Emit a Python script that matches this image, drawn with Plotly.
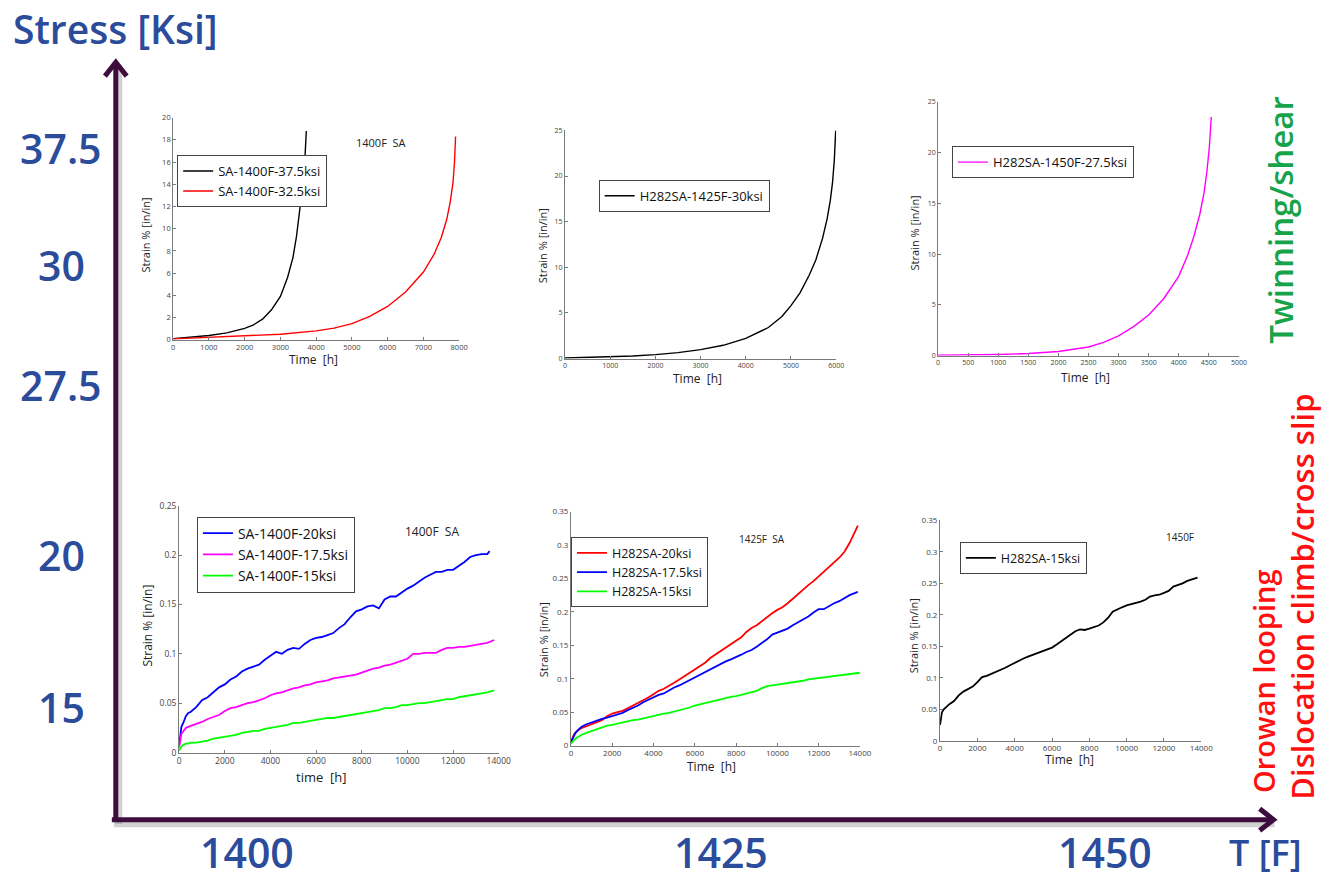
import plotly.graph_objects as go

W, H = 1334, 879

# ---------------- creep data: high-stress tests (strain %, smooth curves) ----------------
sa1400_375_h = [0, 500, 1000, 1500, 2000, 2250, 2500, 2750, 3000, 3200, 3350, 3450, 3550, 3620, 3680, 3725]
sa1400_375 = [0.1, 0.22, 0.38, 0.62, 1.02, 1.35, 1.85, 2.7, 3.9, 5.6, 7.4, 9.3, 11.8, 13.8, 16.0, 18.8]

sa1400_325_h = [0, 1000, 2000, 3000, 4000, 4500, 5000, 5500, 6000, 6500, 7000, 7300, 7500, 7650, 7750, 7830, 7870, 7900]
sa1400_325 = [0.08, 0.2, 0.33, 0.5, 0.8, 1.05, 1.45, 2.1, 3.0, 4.3, 6.1, 7.7, 9.2, 10.8, 12.4, 14.2, 16.0, 18.3]

h282_1425_30_h = [0, 500, 1000, 1500, 2000, 2500, 3000, 3500, 4000, 4500, 4800, 5000, 5200, 5400, 5550,
                  5700, 5800, 5870, 5920, 5960, 5990]
h282_1425_30 = [0.05, 0.1, 0.18, 0.28, 0.43, 0.65, 0.97, 1.45, 2.2, 3.4, 4.6, 5.8, 7.2, 9.1, 10.8,
                13.2, 15.3, 17.3, 19.3, 21.8, 25.0]

h282_1450_275_h = [0, 500, 1000, 1500, 2000, 2500, 2750, 3000, 3250, 3500, 3750, 4000, 4150, 4250, 4350,
                   4420, 4470, 4510, 4540]
h282_1450_275 = [0.03, 0.05, 0.1, 0.2, 0.4, 0.85, 1.3, 1.95, 2.85, 4.0, 5.6, 7.8, 9.9, 11.7, 13.9,
                 16.0, 18.2, 20.6, 23.5]

# ---------------- creep data: low-stress tests (sampled on a common hour grid) ----------------
grid_h = [0, 50, 100, 200, 300, 400, 500,
          750, 1000, 1250, 1500, 1750, 2000, 2250, 2500, 2750, 3000,
          3250, 3500, 3750, 4000, 4250, 4500, 4750, 5000, 5250, 5500,
          5750, 6000, 6250, 6500, 6750, 7000, 7250, 7500, 7750, 8000,
          8250, 8500, 8750, 9000, 9250, 9500, 9750, 10000, 10250, 10500,
          10750, 11000, 11250, 11500, 11750, 12000, 12250, 12500, 12750, 13000,
          13250, 13500]

# 1400F SA
sa1400_20 = [0.008, 0.020, 0.026, 0.031, 0.037, 0.040, 0.041,
             0.046, 0.053, 0.056, 0.061, 0.066, 0.069, 0.074, 0.077, 0.082, 0.085,
             0.087, 0.089, 0.094, 0.098, 0.102, 0.100, 0.104, 0.106, 0.105, 0.110,
             0.114, 0.116, 0.117, 0.119, 0.121, 0.126, 0.130, 0.137, 0.143, 0.145,
             0.148, 0.149, 0.146, 0.155, 0.158, 0.158, 0.162, 0.166, 0.169, 0.173,
             0.177, 0.180, 0.183, 0.183, 0.185, 0.185, 0.189, 0.193, 0.198, 0.200,
             0.201, 0.201]
sa1400_20_end = (13600, 0.204)

sa1400_175 = [0.005, 0.014, 0.019, 0.022, 0.025, 0.026, 0.027,
              0.029, 0.031, 0.034, 0.036, 0.038, 0.042, 0.045, 0.046, 0.048, 0.050,
              0.051, 0.053, 0.055, 0.058, 0.060, 0.061, 0.063, 0.065, 0.066, 0.068,
              0.069, 0.071, 0.072, 0.073, 0.075, 0.076, 0.077, 0.078, 0.079, 0.081,
              0.083, 0.085, 0.086, 0.088, 0.089, 0.091, 0.093, 0.095, 0.100, 0.100,
              0.101, 0.101, 0.101, 0.104, 0.106, 0.106, 0.107, 0.107, 0.108, 0.109,
              0.110, 0.111]
sa1400_175_end = (13800, 0.114)

sa1400_15 = [0.002, 0.004, 0.006, 0.008, 0.009, 0.009, 0.010,
             0.010, 0.011, 0.012, 0.014, 0.015, 0.016, 0.017, 0.018, 0.020, 0.021,
             0.022, 0.022, 0.024, 0.025, 0.026, 0.027, 0.028, 0.030, 0.030, 0.031,
             0.032, 0.033, 0.034, 0.035, 0.035, 0.036, 0.037, 0.038, 0.039, 0.040,
             0.041, 0.042, 0.043, 0.045, 0.045, 0.046, 0.048, 0.048, 0.049, 0.050,
             0.050, 0.051, 0.052, 0.053, 0.054, 0.054, 0.056, 0.057, 0.058, 0.059,
             0.060, 0.061]
sa1400_15_end = (13800, 0.063)

# 1425F SA
h282_20 = [0.005, 0.010, 0.014, 0.019, 0.022, 0.024, 0.026,
           0.029, 0.032, 0.034, 0.038, 0.044, 0.048, 0.050, 0.052, 0.056, 0.060,
           0.063, 0.068, 0.072, 0.077, 0.082, 0.085, 0.089, 0.094, 0.099, 0.104,
           0.109, 0.113, 0.118, 0.124, 0.131, 0.136, 0.141, 0.146, 0.152, 0.156,
           0.162, 0.170, 0.176, 0.180, 0.186, 0.193, 0.198, 0.203, 0.207, 0.213,
           0.220, 0.226, 0.234, 0.240, 0.246, 0.253, 0.260, 0.266, 0.273, 0.281,
           0.290, 0.303]
h282_20_end = (13900, 0.329)

h282_175 = [0.005, 0.009, 0.013, 0.018, 0.022, 0.025, 0.028,
            0.032, 0.035, 0.037, 0.040, 0.042, 0.044, 0.046, 0.049, 0.053, 0.056,
            0.060, 0.065, 0.069, 0.073, 0.076, 0.078, 0.083, 0.087, 0.090, 0.094,
            0.099, 0.103, 0.106, 0.110, 0.114, 0.119, 0.122, 0.126, 0.129, 0.132,
            0.136, 0.140, 0.143, 0.148, 0.153, 0.159, 0.166, 0.169, 0.172, 0.175,
            0.180, 0.184, 0.189, 0.193, 0.199, 0.204, 0.204, 0.209, 0.213, 0.216,
            0.220, 0.225]
h282_175_end = (13900, 0.230)

h282_15 = [0.003, 0.005, 0.007, 0.010, 0.012, 0.014, 0.016,
           0.019, 0.022, 0.025, 0.028, 0.030, 0.031, 0.033, 0.035, 0.036, 0.038,
           0.039, 0.041, 0.043, 0.045, 0.046, 0.048, 0.049, 0.051, 0.052, 0.055,
           0.057, 0.060, 0.062, 0.064, 0.066, 0.068, 0.069, 0.071, 0.073, 0.074,
           0.076, 0.078, 0.079, 0.082, 0.086, 0.089, 0.090, 0.091, 0.093, 0.094,
           0.095, 0.096, 0.097, 0.099, 0.100, 0.101, 0.102, 0.103, 0.104, 0.105,
           0.106, 0.107]
h282_15_end = (14000, 0.109)

# 1450F
h282_1450_15 = [0.025, 0.038, 0.045, 0.050, 0.053, 0.056, 0.058,
                0.063, 0.072, 0.078, 0.082, 0.086, 0.093, 0.101, 0.103, 0.106, 0.110,
                0.112, 0.116, 0.120, 0.124, 0.128, 0.131, 0.134, 0.137, 0.139, 0.142,
                0.145, 0.148, 0.153, 0.158, 0.164, 0.169, 0.174, 0.177, 0.176, 0.178,
                0.180, 0.183, 0.188, 0.195, 0.205, 0.209, 0.212, 0.215, 0.217, 0.218,
                0.221, 0.224, 0.229, 0.231, 0.232, 0.235, 0.238, 0.245, 0.247, 0.250,
                0.254, 0.256]
h282_1450_15_end = (13800, 0.259)

for s in (sa1400_20, sa1400_175, sa1400_15, h282_20, h282_175, h282_15, h282_1450_15):
    assert len(s) == len(grid_h)

# ---------------- stress / temperature map labels ----------------
stress_labels = ["37.5", "30", "27.5", "20", "15"]
stress_label_y = [144, 262, 384, 556, 710]
temp_labels = ["1400", "1425", "1450"]
temp_label_x = [248, 727, 1115]

BLUE_TXT = "#2b4c9b"
ARROW = "#3d0d3d"
FONT = "Open Sans, Lato, sans-serif"
SMALL = "Open Sans, DejaVu Sans, sans-serif"


def px(x):
    return x / W


def py(y):
    return 1 - y / H


fig = go.Figure()

# panel geometry in pixels: (left, right, top, bottom)
panels = {
    1: (173, 462, 113, 338),
    2: (569, 843, 126, 357),
    3: (946, 1250, 97, 354),
    4: (179, 502, 506, 756),
    5: (575, 867, 512, 749),
    6: (948, 1212, 521, 744),
}


def add(i, x, y, name, color, legend, width=1.4):
    fig.add_trace(go.Scatter(
        x=x, y=y, mode="lines", name=name,
        line=dict(color=color, width=width),
        xaxis="x" if i == 1 else f"x{i}", yaxis="y" if i == 1 else f"y{i}",
        legend=legend,
    ))


def with_end(series, end):
    return grid_h + [end[0]], series + [end[1]]


add(1, sa1400_375_h, sa1400_375, "SA-1400F-37.5ksi", "#000000", "legend")
add(1, sa1400_325_h, sa1400_325, "SA-1400F-32.5ksi", "#ff0000", "legend")
add(2, h282_1425_30_h, h282_1425_30, "H282SA-1425F-30ksi", "#000000", "legend2")
add(3, h282_1450_275_h, h282_1450_275, "H282SA-1450F-27.5ksi", "#ff00ff", "legend3")

x, y = with_end(sa1400_20, sa1400_20_end)
add(4, x, y, "SA-1400F-20ksi", "#0000ff", "legend4", 1.8)
x, y = with_end(sa1400_175, sa1400_175_end)
add(4, x, y, "SA-1400F-17.5ksi", "#ff00ff", "legend4", 1.8)
x, y = with_end(sa1400_15, sa1400_15_end)
add(4, x, y, "SA-1400F-15ksi", "#00ff00", "legend4", 1.8)

x, y = with_end(h282_20, h282_20_end)
add(5, x, y, "H282SA-20ksi", "#ff0000", "legend5", 1.8)
x, y = with_end(h282_175, h282_175_end)
add(5, x, y, "H282SA-17.5ksi", "#0000ff", "legend5", 1.8)
x, y = with_end(h282_15, h282_15_end)
add(5, x, y, "H282SA-15ksi", "#00ff00", "legend5", 1.8)

x, y = with_end(h282_1450_15, h282_1450_15_end)
add(6, x, y, "H282SA-15ksi", "#000000", "legend6", 1.8)

axis_ranges = {
    1: ((0, 8000), [0, 1000, 2000, 3000, 4000, 5000, 6000, 7000, 8000], (0, 20),
        [0, 2, 4, 6, 8, 10, 12, 14, 16, 18, 20], 7.5),
    2: ((0, 6000), [0, 1000, 2000, 3000, 4000, 5000, 6000], (0, 25), [0, 5, 10, 15, 20, 25], 7),
    3: ((0, 5000), [0, 500, 1000, 1500, 2000, 2500, 3000, 3500, 4000, 4500, 5000], (0, 25),
        [0, 5, 10, 15, 20, 25], 7),
    4: ((0, 14000), [0, 2000, 4000, 6000, 8000, 10000, 12000, 14000], (0, 0.25),
        [0, 0.05, 0.1, 0.15, 0.2, 0.25], 8.5),
    5: ((0, 14000), [0, 2000, 4000, 6000, 8000, 10000, 12000, 14000], (0, 0.35),
        [0, 0.05, 0.1, 0.15, 0.2, 0.25, 0.3, 0.35], 8),
    6: ((0, 14000), [0, 2000, 4000, 6000, 8000, 10000, 12000, 14000], (0, 0.35),
        [0, 0.05, 0.1, 0.15, 0.2, 0.25, 0.3, 0.35], 8),
}

layout_axes = {}
for i, (l, r, t, b) in panels.items():
    xr, xt, yr, yt, fs = axis_ranges[i]
    sx = "" if i == 1 else str(i)
    common = dict(showline=True, linecolor="#7a7a7a", linewidth=1, ticks="inside", ticklen=3,
                  tickcolor="#7a7a7a", showgrid=False, zeroline=False, mirror=False,
                  tickfont=dict(family=SMALL, size=fs, color="#444444"), fixedrange=True)
    layout_axes[f"xaxis{sx}"] = dict(domain=[px(l), px(r)], range=list(xr), tickvals=xt,
                                     ticktext=[str(v) for v in xt], anchor=f"y{sx}", **common)
    layout_axes[f"yaxis{sx}"] = dict(domain=[py(b), py(t)], range=list(yr), tickvals=yt,
                                     ticktext=[f"{v:g}" for v in yt], anchor=f"x{sx}", **common)


def legend_box(x, y, size):
    return dict(x=px(x), y=py(y), xanchor="left", yanchor="top", bgcolor="white",
                bordercolor="#444444", borderwidth=1, itemwidth=30,
                font=dict(family=SMALL, size=size, color="#111111"),
                tracegroupgap=0)


fig.update_layout(
    width=W, height=H, autosize=False,
    margin=dict(l=0, r=0, t=0, b=0),
    paper_bgcolor="white", plot_bgcolor="white",
    showlegend=True,
    legend=legend_box(177, 151, 13),
    legend2=legend_box(603, 176, 13),
    legend3=legend_box(960, 142, 13),
    legend4=legend_box(197, 517, 14),
    legend5=legend_box(575, 538, 12.5),
    legend6=legend_box(968, 543, 12.5),
    **layout_axes,
)

annotations = []


def text(x, y, s, size, color, family=FONT, angle=0, weight="normal"):
    annotations.append(dict(x=px(x), y=py(y), xref="paper", yref="paper", text=s, showarrow=False,
                            font=dict(family=family, size=size, color=color, weight=weight),
                            textangle=angle, xanchor="center", yanchor="middle"))


# axis titles of the small creep plots
for (xx, yy, fs) in [(145, 232, 11), (547, 243, 11), (922, 230, 11), (147, 627, 12), (548, 642, 11), (921, 638, 11)]:
    text(xx, yy, "Strain % [in/in]", fs, "#222222", SMALL, -90)
for (xx, yy, s, fs) in [(315, 358, "Time  [h]", 12), (703, 377, "Time  [h]", 12), (1095, 376, "Time  [h]", 12),
                        (322, 781, "time  [h]", 13), (717, 770, "Time  [h]", 12), (1079, 763, "Time  [h]", 12)]:
    text(xx, yy, s, fs, "#222222", SMALL)

# in-plot titles
text(383, 138, "1400F  SA", 11, "#222222", SMALL)
text(435, 532, "1400F  SA", 12, "#222222", SMALL)
text(768, 540, "1425F  SA", 10, "#222222", SMALL)
text(1190, 538, "1450F", 10, "#222222", SMALL)

# stress / temperature map
text(115, 23, "Stress [Ksi]", 39, BLUE_TXT, weight=600)
for s, yy in zip(stress_labels, stress_label_y):
    text(60, yy, s, 41, BLUE_TXT, weight=600)
for s, xx in zip(temp_labels, temp_label_x):
    text(xx, 857, s, 41, BLUE_TXT, weight=600)
text(1277, 857, "T [F]", 36, BLUE_TXT, weight=600)

# deformation mechanism notes
text(1292, 217, "Twinning/shear", 33, "#16a34a", FONT, -90, 600)
text(1275, 684, "Orowan looping", 29, "#ff1010", FONT, -90, 600)
text(1313, 598, "Dislocation climb/cross slip", 31, "#ff1010", FONT, -90, 600)

fig.update_layout(annotations=annotations)


def seg(x0, y0, x1, y1, color, w):
    return dict(type="line", xref="paper", yref="paper", x0=px(x0), y0=py(y0), x1=px(x1), y1=py(y1),
                line=dict(color=color, width=w), layer="above")


def chevron(pts, color, w):
    path = "M " + " L ".join(f"{px(a)},{py(b)}" for a, b in pts)
    return dict(type="path", xref="paper", yref="paper", path=path,
                line=dict(color=color, width=w), layer="above")


shapes = [
    # soft drop shadows
    seg(118, 828, 118, 62, "rgba(0,0,0,0.18)", 7),
    seg(113, 828, 1286, 828, "rgba(0,0,0,0.18)", 7),
    # stress axis
    seg(115, 826, 115, 58, ARROW, 5),
    chevron([(104, 71), (115, 57), (126, 71)], ARROW, 5),
    # temperature axis
    seg(111, 824, 1283, 824, ARROW, 5),
    chevron([(1271, 813), (1285, 824), (1271, 835)], ARROW, 5),
]
fig.update_layout(shapes=shapes)

fig.write_html("out.html")
